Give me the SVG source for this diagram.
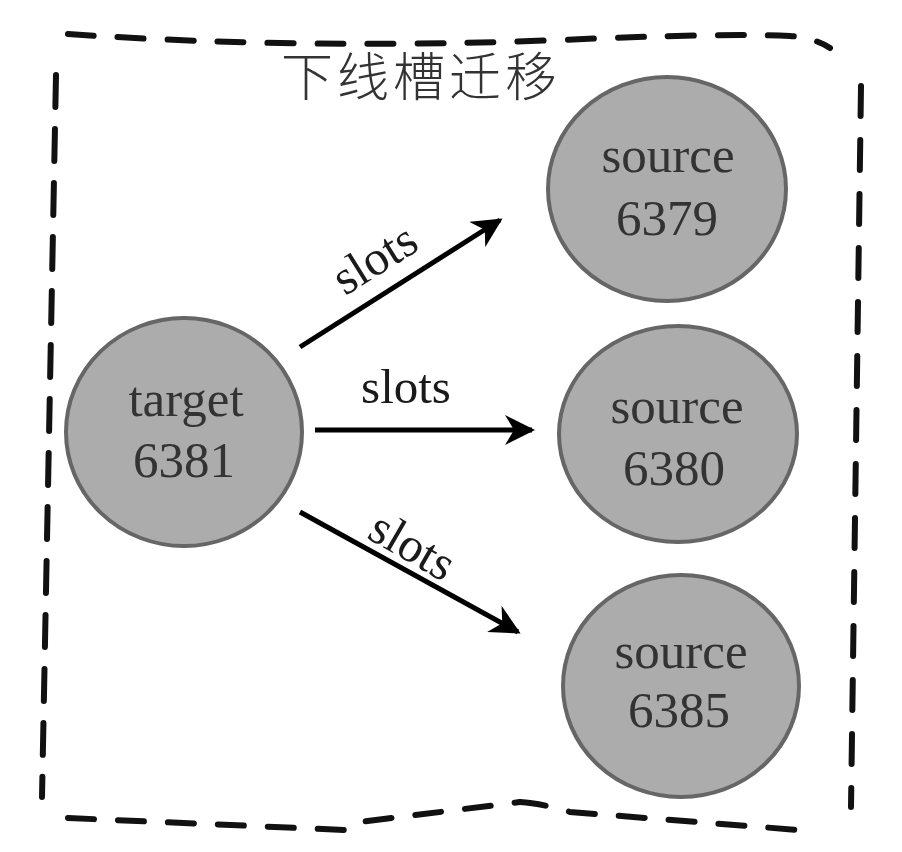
<svg xmlns="http://www.w3.org/2000/svg" width="902" height="852" viewBox="0 0 902 852">
<defs>
<style>
.border{fill:none;stroke:#111;stroke-width:6;stroke-linecap:round;stroke-dasharray:26 24}
.node{fill:#acacac;stroke:#666;stroke-width:4}
.lbl{font-family:"Liberation Serif",serif;font-size:51px;fill:#333;text-anchor:middle}
.edge{fill:none;stroke:#000;stroke-width:5}
.elbl{font-family:"Liberation Serif",serif;font-size:49px;fill:#1a1a1a;text-anchor:middle}
.title{font-family:"Noto Sans CJK SC",sans-serif;font-weight:300;font-size:52px;fill:#333;text-anchor:middle;letter-spacing:4px}
</style>
<marker id="arr" viewBox="0 0 10 10" refX="9" refY="5" markerWidth="6" markerHeight="6" markerUnits="strokeWidth" orient="auto">
<path d="M0,0 L10,5 L0,10 L3,5 Z" fill="#000"/>
</marker>
</defs>
<rect width="902" height="852" fill="#fff"/>
<g id="frame">
<path class="border" d="M68,34 Q300,50 560,40 Q720,33 790,36 Q815,38 830,48"/>
<path class="border" style="stroke-dasharray:32 22" d="M56,75 L42,797"/>
<path class="border" style="stroke-dasharray:30 24" d="M861,86 L851,807"/>
<path class="border" d="M68,818 L345,830 L360,822 Q440,812 520,802"/>
<path class="border" d="M520,802 Q540,803 570,812 L811,831"/>
<text class="title" x="421" y="96">下线槽迁移</text>
</g>
<g id="connectors">
<line class="edge" x1="300" y1="347" x2="500" y2="220" marker-end="url(#arr)"/>
<line class="edge" x1="315" y1="430" x2="532" y2="430" marker-end="url(#arr)"/>
<line class="edge" x1="300" y1="512" x2="518" y2="632" marker-end="url(#arr)"/>
<text class="elbl" transform="translate(374,258) rotate(-32)" x="0" y="17">slots</text>
<text class="elbl" x="406" y="403">slots</text>
<text class="elbl" transform="translate(413,545) rotate(30)" x="0" y="17">slots</text>
</g>
<g id="target6381">
<ellipse class="node" cx="184" cy="432" rx="118" ry="114"/>
<text class="lbl" x="186" y="416">target</text>
<text class="lbl" x="184" y="477">6381</text>
</g>
<g id="source6379">
<ellipse class="node" cx="667" cy="189" rx="119" ry="112"/>
<text class="lbl" x="668" y="172">source</text>
<text class="lbl" x="667" y="235">6379</text>
</g>
<g id="source6380">
<ellipse class="node" cx="678" cy="434" rx="119" ry="108"/>
<text class="lbl" x="677" y="423">source</text>
<text class="lbl" x="674" y="485">6380</text>
</g>
<g id="source6385">
<ellipse class="node" cx="681" cy="686" rx="118" ry="111"/>
<text class="lbl" x="681" y="668">source</text>
<text class="lbl" x="679" y="727">6385</text>
</g>
</svg>
